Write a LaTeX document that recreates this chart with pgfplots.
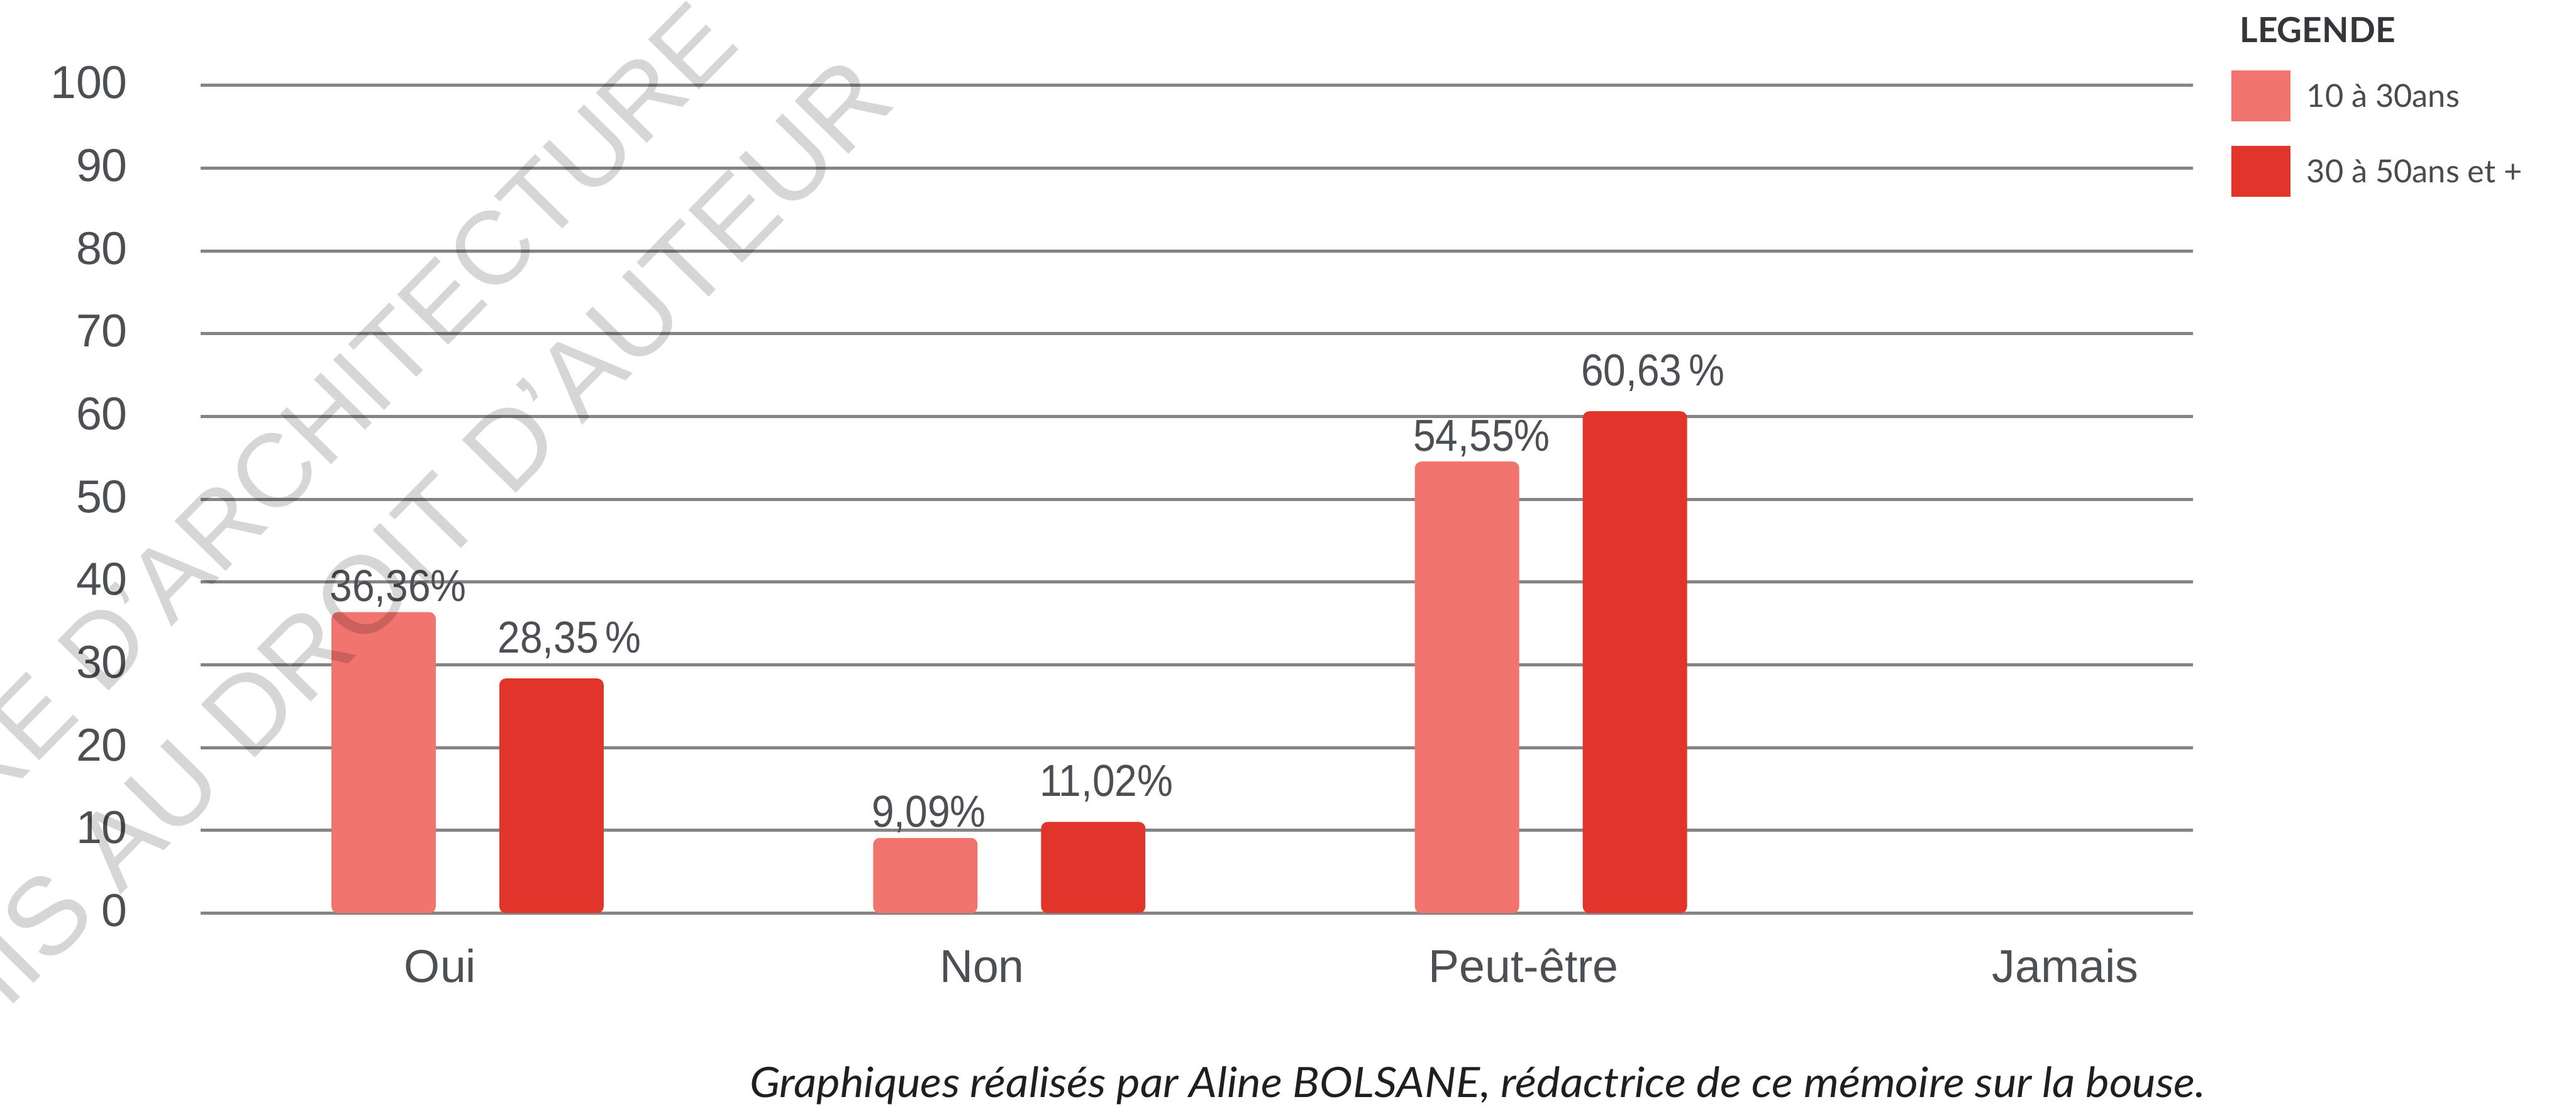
\documentclass[border=0pt]{standalone}
\usepackage{fontspec}
\setmainfont{Liberation Sans}
\newfontfamily\lato{Lato}
\usepackage{graphicx}
\usepackage{pgfplots}
\pgfplotsset{compat=1.18}
\definecolor{barA}{RGB}{242,116,110}
\definecolor{barB}{RGB}{225,53,43}
\definecolor{textc}{RGB}{76,79,83}
\definecolor{gridc}{RGB}{136,132,133}
\definecolor{legc}{RGB}{72,75,79}
\definecolor{legtitle}{RGB}{52,54,58}
\begin{document}
\begin{tikzpicture}
\begin{axis}[
  at={(0,0)}, anchor=south west,
  scale only axis, width=24.26cm, height=10.08cm,
  xmin=-0.4428, xmax=3.236, ymin=0, ymax=100,
  axis line style={draw=none},
  ytick={0,10,...,100},
  xtick={0,1,2,3}, xticklabels={Oui,Non,Peut-être,Jamais},
  major tick length=0pt,
  ymajorgrids, grid style={line width=1.08pt, color=gridc},
  /pgf/number format/assume math mode=true,
  tick label style={font=\fontsize{16}{19}\selectfont, text=textc, inner sep=0pt},
  yticklabel style={anchor=base east, xshift=-0.88cm, yshift=-0.16cm},
  xticklabel style={anchor=base, yshift=-0.84cm},
  ybar, bar width=1.27cm,
  nodes near coords={\scalebox{0.9}[1]{\pgfplotspointmeta}},
  point meta=explicit symbolic,
  nodes near coords style={font=\fontsize{15.5}{18}\selectfont, text=textc, inner sep=0pt, anchor=base west, xshift=-0.66cm, yshift=0.13cm},
  legend style={at={(1.019,1.018)}, anchor=north west, draw=none, fill=none,
    inner sep=0pt, outer sep=0pt, row sep=0.30cm,
    font=\lato\fontsize{11}{13}\selectfont, text=legc,
    nodes={inner sep=0pt},
    /tikz/every odd column/.append style={column sep=0.2cm}},
  legend cell align=left,
  legend image code/.code={\fill[#1, sharp corners] (0cm,-0.29cm) rectangle (0.72cm,0.33cm);},
]
\addplot[fill=barA, draw=none, rounded corners=0.08cm, bar shift=-0.69cm]
  coordinates {(0,36.36) [36,36\%] (1,9.09) [9,09\%] (2,54.55) [54,55\%]};
\addlegendentry{10 à 30ans}
\addplot[fill=barB, draw=none, rounded corners=0.08cm, bar shift=1.354cm,
  nodes near coords style={yshift=0.18cm}]
  coordinates {(0,28.35) [28,35\,\%] (1,11.02) [11,02\%] (2,60.63) [60,63\,\%]};
\addlegendentry{30 à 50ans et +}
\end{axis}
\node[anchor=base west, inner sep=0pt, font=\lato\bfseries\fontsize{12}{14}\selectfont, text=legtitle] at (24.82cm,10.60cm) {LEGENDE};
\node[anchor=base west, inner sep=0pt, font=\lato\itshape\fontsize{14.5}{17}\selectfont, text=black!88] at (6.68cm,-2.24cm) {\resizebox{17.72cm}{\height}{Graphiques réalisés par Aline BOLSANE, rédactrice de ce mémoire sur la bouse.}};
\node[rotate=45.5, anchor=base east, inner sep=0pt, font=\fontsize{36}{40}\selectfont, text=black, opacity=0.16] at (6.60cm,10.56cm) {ECOLE NATIONALE SUPERIEURE D'ARCHITECTURE};
\node[rotate=45.5, anchor=base east, inner sep=0pt, font=\fontsize{38}{42}\selectfont, text=black, opacity=0.16] at (8.50cm,9.86cm) {DOCUMENT SOUMIS AU DROIT D'AUTEUR};
\pgfresetboundingbox
\useasboundingbox (-2.44cm,-2.38cm) rectangle (28.92cm,11.12cm);
\end{tikzpicture}
\end{document}
